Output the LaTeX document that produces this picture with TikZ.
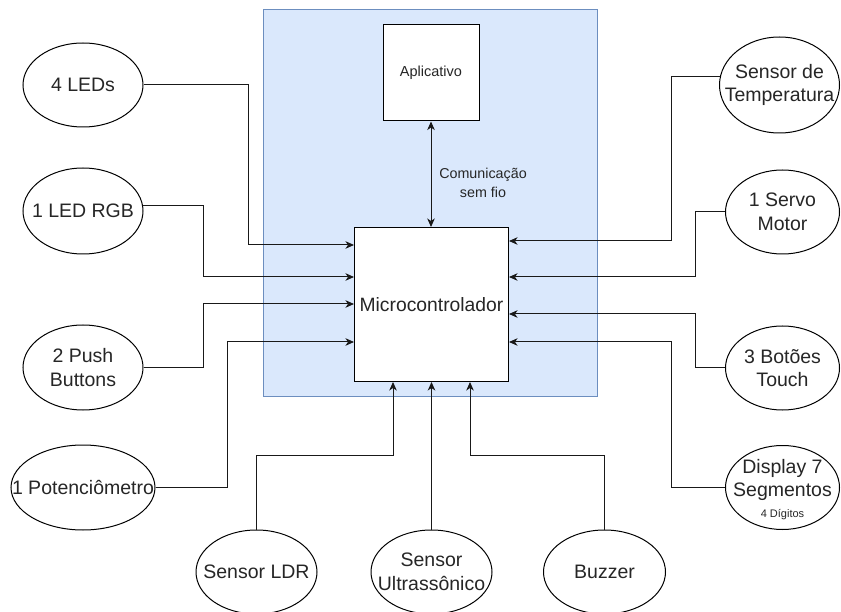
\documentclass[tikz,border=0pt]{standalone}
\usepackage{fontspec}
\setmainfont{Liberation Sans}
\usetikzlibrary{arrows.meta,shapes.geometric}
\definecolor{bluefill}{HTML}{DAE8FC}
\definecolor{bluedraw}{HTML}{6C8EBF}
\tikzset{
  ell/.style={ellipse, draw=black, fill=white, line width=1pt, inner sep=0pt},
  lbl/.style={align=center, text=black!85, font=\fontsize{19.5}{23.5}\selectfont, inner sep=0pt},
  sqbox/.style={draw=black, fill=white, line width=1pt, inner sep=0pt},
  conn/.style={draw=black!90, line width=1pt, -{Stealth[length=8.5pt,width=7.5pt,inset=2.5pt]}},
  biconn/.style={draw=black!90, line width=1pt, {Stealth[length=8.5pt,width=7.5pt,inset=2.5pt]}-{Stealth[length=8.5pt,width=7.5pt,inset=2.5pt]}},
}
\begin{document}
\begin{tikzpicture}[x=1pt,y=-1pt]
\useasboundingbox (0,0) rectangle (841,612);
% container
\node[draw=bluedraw, fill=bluefill, line width=1pt, minimum width=334pt, minimum height=386pt, inner sep=0pt] (panel) at (430,203) {};
% boxes
\node[sqbox, minimum width=96pt, minimum height=96pt, font=\fontsize{14.5}{17}\selectfont, text=black!85] (app) at (431,73) {Aplicativo};
\node[sqbox, minimum width=154pt, minimum height=154pt, font=\fontsize{19.3}{23}\selectfont, text=black!85] (mc) at (431.5,304.5) {Microcontrolador};
% left ellipses
\node[ell, minimum width=120pt, minimum height=84pt, label={[lbl]center:4 LEDs}] (leds) at (83,85) {};
\node[ell, minimum width=120pt, minimum height=86pt, label={[lbl]center:1 LED RGB}] (rgb) at (83,211) {};
\node[ell, minimum width=120pt, minimum height=85pt, label={[lbl]center:2 Push\\Buttons}] (push) at (83,367.5) {};
\node[ell, minimum width=144pt, minimum height=85pt, label={[lbl]center:1 Potenciômetro}] (pot) at (83,487.5) {};
% bottom ellipses
\node[ell, minimum width=121pt, minimum height=84pt, label={[lbl]center:Sensor LDR}] (ldr) at (256.5,572) {};
\node[ell, minimum width=121pt, minimum height=84pt, label={[lbl]center:Sensor\\Ultrassônico}] (us) at (431.5,572) {};
\node[ell, minimum width=122pt, minimum height=84pt, label={[lbl]center:Buzzer}] (buz) at (604.5,572) {};
% right ellipses
\node[ell, minimum width=120pt, minimum height=96pt, label={[lbl]center:Sensor de\\Temperatura}] (temp) at (779.5,85) {};
\node[ell, minimum width=114pt, minimum height=84pt, label={[lbl]center:1 Servo\\Motor}] (servo) at (782.5,212) {};
\node[ell, minimum width=114pt, minimum height=84pt, label={[lbl]center:3 Botões\\Touch}] (touch) at (782.5,368) {};
\node[ell, minimum width=114pt, minimum height=84pt, label={[lbl,yshift=-2pt]center:Display 7\\Segmentos\\[-3pt]{\fontsize{11}{13}\selectfont 4 Dígitos}}] (disp) at (782.5,487.5) {};
% wireless link
\draw[biconn] (app.south) -- (app.south |- mc.north);
\node[align=center, font=\fontsize{14.3}{19.5}\selectfont, text=black!85, inner sep=0pt] (wl) at (483,183) {Comunicação\\sem fio};
% left connectors
\draw[conn] (leds.east) -| (248,245) -- (mc.west |- 0,245);
\draw[conn] (rgb.5) -| (203,277) -- (mc.west |- 0,277);
\draw[conn] (push.east) -| (203,304) -- (mc.west |- 0,304);
\draw[conn] (pot.east) -| (227,342) -- (mc.west |- 0,342);
% bottom connectors
\draw[conn] (ldr.north) |- (393,455) -- (mc.south -| 393,0);
\draw[conn] (us.north) -- (mc.south -| us.north);
\draw[conn] (buz.north) |- (470,455) -- (mc.south -| 470,0);
% right connectors
\draw[conn] (temp.172) -| (671,241) -- (mc.east |- 0,241);
\draw[conn] (servo.west) -| (695,277) -- (mc.east |- 0,277);
\draw[conn] (touch.west) -| (695,314) -- (mc.east |- 0,314);
\draw[conn] (disp.west) -| (671,342) -- (mc.east |- 0,342);
\end{tikzpicture}
\end{document}
